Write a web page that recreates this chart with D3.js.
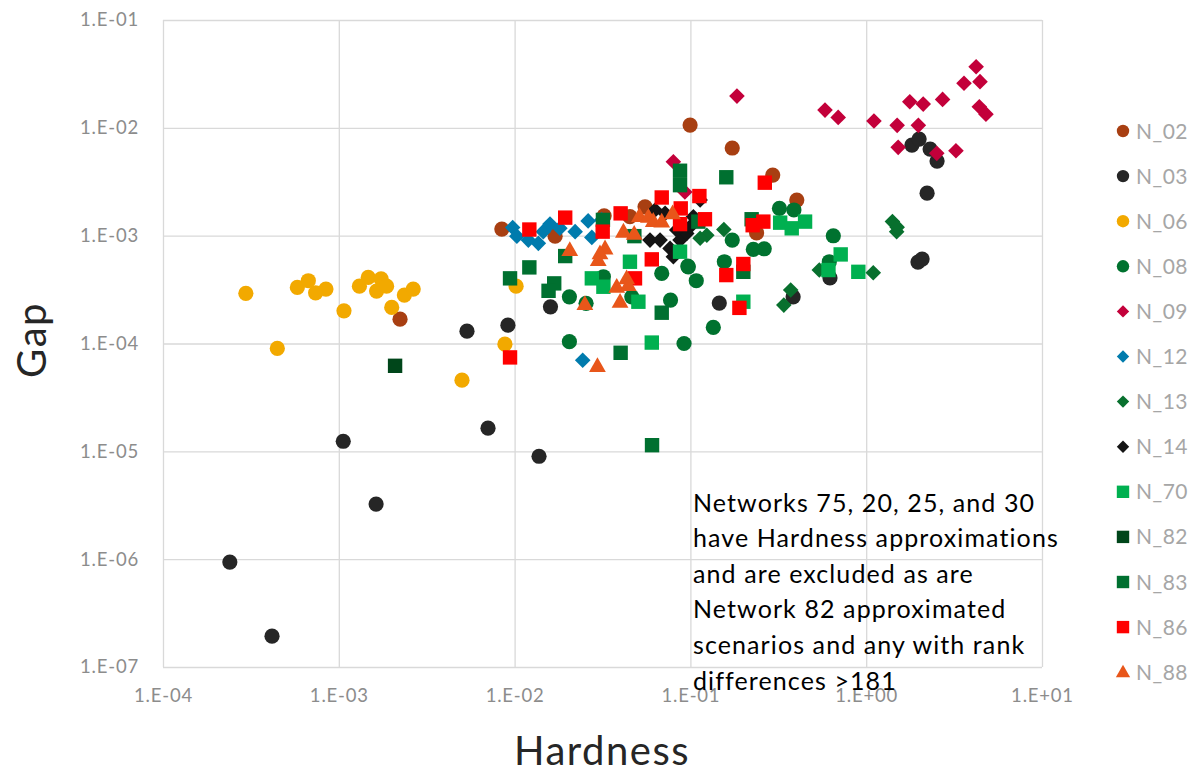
<!DOCTYPE html>
<html><head><meta charset="utf-8">
<script src="https://cdn.jsdelivr.net/npm/d3@7"></script>
<style>body{margin:0;background:#fff;}svg{display:block;font-family:Lato,"Open Sans",sans-serif;}</style>
</head><body><svg id="c" width="1190" height="770"></svg>
<script>
const seriesNames = ["N_02","N_03","N_06","N_08","N_09","N_12","N_13","N_14","N_70","N_82","N_83","N_86","N_88"];
const xTicks = [1e-4,1e-3,1e-2,1e-1,1,10];
const yTicks = [1e-7,1e-6,1e-5,1e-4,1e-3,1e-2,1e-1];
const n02 = [[0.0996,0.0106],[0.173,0.0065],[0.294,0.00365],[0.403,0.00214],[0.238,0.00106],[0.00846,0.00115],[0.017,0.00099],[0.0323,0.00153],[0.0552,0.00185],[0.0453,0.0015],[0.00223,0.000168]];
const n03 = [[0.00024,9.4e-7],[0.000417,1.93e-7],[0.00106,1.24e-5],[0.00163,3.24e-6],[0.00706,1.64e-5],[0.01377,9.0e-6],[0.00536,1.30e-4],[0.00916,1.48e-4],[0.016,2.19e-4],[0.146,2.37e-4],[0.384,2.71e-4],[0.622,4.05e-4],[1.82,0.00692],[2.0,0.00787],[2.31,0.00636],[2.53,0.00492],[2.22,0.00248],[1.97,5.69e-4],[2.08,6.07e-4]];
const n06 = [[2.96e-4,2.92e-4],[5.81e-4,3.31e-4],[6.71e-4,3.82e-4],[7.38e-4,2.95e-4],[8.45e-4,3.2e-4],[1.07e-3,2.01e-4],[4.47e-4,9.0e-5],[1.31e-3,3.4e-4],[1.47e-3,4.1e-4],[1.74e-3,3.98e-4],[1.64e-3,3.06e-4],[1.87e-3,3.4e-4],[2.0e-3,2.16e-4],[2.36e-3,2.81e-4],[2.65e-3,3.2e-4],[5.02e-3,4.57e-5],[0.0102,3.4e-4],[8.81e-3,9.86e-5]];
const n08 = [[0.0205,2.71e-4],[0.0255,2.36e-4],[0.0205,1.04e-4],[0.092,1.0e-4],[0.0687,4.47e-4],[0.0771,2.53e-4],[0.0464,2.71e-4],[0.032,4.16e-4],[0.0973,5.14e-4],[0.108,3.82e-4],[0.321,1.79e-3],[0.388,1.73e-3],[0.173,9.1e-4],[0.228,7.46e-4],[0.263,7.56e-4],[0.156,5.73e-4],[0.0967,5.23e-4],[0.135,1.41e-4],[0.65,9.98e-4],[0.617,5.73e-4]];
const n09 = [[0.583,0.0146],[0.693,0.0125],[1.107,0.01156],[1.5,0.01054],[1.77,0.01745],[2.11,0.0166],[2.72,0.01836],[1.98,0.01054],[1.52,0.00659],[2.52,0.0058],[3.24,0.00614],[3.6,0.0259],[4.22,0.0369],[4.44,0.0268],[4.4,0.0157],[4.8,0.0134],[0.184,0.0197],[0.08,0.00485],[0.093,0.00254]];
const n12 = [[0.00975,1.19e-3],[0.0103,9.9e-4],[0.01197,9.1e-4],[0.01365,8.49e-4],[0.01456,1.09e-3],[0.0159,1.28e-3],[0.0181,1.17e-3],[0.0221,1.09e-3],[0.0262,1.37e-3],[0.0275,9.64e-4],[0.0313,1.4e-3],[0.0244,7.0e-5]];
const n13 = [[0.155,1.14e-3],[0.124,1.01e-3],[0.1136,9.45e-4],[0.541,4.8e-4],[1.097,4.53e-4],[0.372,3.13e-4],[0.34,2.27e-4],[1.41,1.35e-3],[1.49,1.09e-3],[1.5,1.2e-3]];
const n14 = [[0.063,1.73e-3],[0.0718,1.61e-3],[0.0589,9.1e-4],[0.0672,9.1e-4],[0.0766,7.62e-4],[0.0873,9.1e-4],[0.0953,1.05e-3],[0.104,1.5e-3],[0.1136,2.14e-3],[0.08,6.37e-4],[0.0836,1.13e-3],[0.0996,1.21e-3]];
const n70 = [[0.324,1.32e-3],[0.377,1.17e-3],[0.449,1.35e-3],[0.716,6.7e-4],[0.61,4.8e-4],[0.902,4.62e-4],[0.0873,7.1e-4],[0.2,2.44e-4],[0.0603,1.02e-4],[0.0453,5.73e-4],[0.0275,4.02e-4],[0.032,3.36e-4],[0.0506,2.44e-4]];
const n82 = [[2.09e-3,6.21e-5]];
const n83 = [[9.42e-3,4.02e-4],[0.01213,5.08e-4],[0.0194,6.47e-4],[0.0168,3.61e-4],[0.0156,3.08e-4],[0.0401,8.2e-5],[0.0687,1.93e-4],[0.0605,1.14e-5],[0.0873,4.0e-3],[0.0873,2.94e-3],[0.16,3.48e-3],[0.223,1.42e-3],[0.2,4.62e-4],[0.111,1.35e-3],[0.048,9.9e-4],[0.0318,1.4e-3]];
const n86 = [[0.01213,1.14e-3],[0.0194,1.47e-3],[0.0317,1.09e-3],[0.0401,1.61e-3],[0.0687,2.26e-3],[0.0881,1.79e-3],[0.0873,1.28e-3],[0.1125,2.33e-3],[0.121,1.42e-3],[0.0603,6.03e-4],[0.0484,4.02e-4],[0.16,4.31e-4],[0.265,3.1e-3],[0.226,1.25e-3],[0.26,1.35e-3],[0.2,5.46e-4],[0.19,2.14e-4],[9.42e-3,7.43e-5]];
const n88 = [[0.0206,7.35e-4],[0.0416,1.09e-3],[0.0479,1.04e-3],[0.0513,1.52e-3],[0.0577,1.5e-3],[0.0615,1.37e-3],[0.0687,1.35e-3],[0.0792,1.61e-3],[0.0327,7.62e-4],[0.0306,6.86e-4],[0.0299,5.94e-4],[0.0434,4.02e-4],[0.0381,3.36e-4],[0.0443,3.48e-4],[0.0398,2.44e-4],[0.0251,2.32e-4],[0.0296,6.17e-5]];
const noteLines = ["Networks 75, 20, 25, and 30","have Hardness approximations","and are excluded as are","Network 82 approximated","scenarios and any with rank","differences >181"];

const seriesData = [n02,n03,n06,n08,n09,n12,n13,n14,n70,n82,n83,n86,n88];
const shapes = ["circle","circle","circle","circle","diamond","diamond","diamond","diamond","square","square","square","square","triangle"];
const colors = ["#A83F12","#262626","#F2A900","#00722F","#C3003A","#007BAD","#08702E","#141414","#00B050","#00461A","#007030","#FF0000","#E8561A"];

const svg = d3.select("#c");
const x = d3.scaleLog().domain([1e-4,10]).range([163,1042]);
const y = d3.scaleLog().domain([1e-7,1e-1]).range([667,20]);
const fmt = d => { const e = Math.round(Math.log10(d)); return "1.E" + (e<0?"-":"+") + String(Math.abs(e)).padStart(2,"0"); };

const gx = svg.append("g").attr("transform","translate(0,667)")
  .call(d3.axisBottom(x).tickValues(xTicks).tickFormat(fmt).tickSize(-647).tickPadding(22));
const gy = svg.append("g").attr("transform","translate(163,0)")
  .call(d3.axisLeft(y).tickValues(yTicks).tickFormat(fmt).tickSize(-879).tickPadding(24));
[gx,gy].forEach(g=>{
  g.select(".domain").remove();
  g.selectAll(".tick line").attr("stroke","#D9D9D9").attr("stroke-width",1.3);
  g.selectAll(".tick text").attr("fill","#8C8C8C").style("font-size","18.5px")
    .style("letter-spacing","0.8px").style("font-family","Lato, sans-serif");
});

function shapePath(s, r){
  if(s==="circle") return d3.symbol(d3.symbolCircle, Math.PI*r*r)();
  if(s==="square") return `M${-r},${-r}H${r}V${r}H${-r}Z`;
  if(s==="diamond") return `M0,${-r}L${r},0L0,${r}L${-r},0Z`;
  if(s==="triangle") return `M0,${-r*1.1}L${r*1.05},${r*0.75}L${-r*1.05},${r*0.75}Z`;
}
const markerR = {circle:7.6, square:7.2, diamond:7.8, triangle:8};
const plot = svg.append("g");
seriesData.forEach((data,i)=>{
  plot.append("g").selectAll("path").data(data).join("path")
    .attr("d", shapePath(shapes[i], markerR[shapes[i]]))
    .attr("transform", d=>`translate(${x(d[0])},${y(d[1])})`)
    .attr("fill", colors[i]);
});

const note = svg.append("text").attr("x",693).attr("y",511.5)
  .style("font-size","25px").style("letter-spacing","1.1px").style("font-family","Lato, sans-serif").attr("fill","#000");
noteLines.forEach((t,i)=> note.append("tspan").attr("x",693).attr("dy", i===0?0:35.6).text(t));

svg.append("text").attr("x",602).attr("y",765).attr("text-anchor","middle")
  .style("font-size","40px").style("letter-spacing","1.5px").attr("fill","#262626").text("Hardness");
svg.append("text").attr("transform","translate(46,340) rotate(-90)").attr("text-anchor","middle")
  .style("font-size","40px").style("letter-spacing","1.5px").attr("fill","#262626").text("Gap");

const leg = svg.append("g");
seriesNames.forEach((n,i)=>{
  const ly = 131 + i*45.1;
  leg.append("path").attr("d", shapePath(shapes[i], shapes[i]==="triangle"?6.8:6.2))
    .attr("transform",`translate(1123,${ly})`).attr("fill",colors[i]);
  leg.append("text").attr("x",1136).attr("y",ly+7.5).style("font-size","21px").style("letter-spacing","0.5px")
    .attr("fill","#A6A6A6").text(n);
});
</script></body></html>
